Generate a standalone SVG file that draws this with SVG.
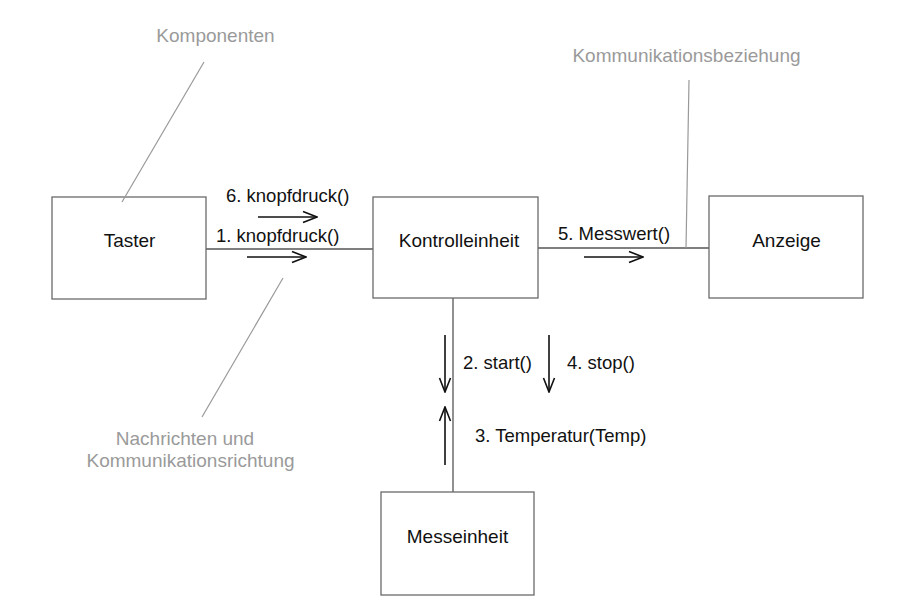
<svg xmlns="http://www.w3.org/2000/svg" width="922" height="606" viewBox="0 0 922 606">
<defs>
<style>
.box{fill:#fff;stroke:#6a6a6a;stroke-width:1.3}
.name{font-family:"Liberation Sans",Arial,sans-serif;font-size:19px;fill:#111;text-anchor:middle}
.msg{font-family:"Liberation Sans",Arial,sans-serif;font-size:18.5px;fill:#111}
.note{font-family:"Liberation Sans",Arial,sans-serif;font-size:19px;fill:#9a9a9a}
.link{stroke:#555;stroke-width:1.3;fill:none}
.ptr{stroke:#999;stroke-width:1.2;fill:none}
.arr{stroke:#111;stroke-width:1.6;fill:none}
</style>
<marker id="ah" viewBox="0 0 16 14" refX="15" refY="7" markerWidth="16" markerHeight="14" markerUnits="userSpaceOnUse" orient="auto">
<path d="M1,1.5 L15,7 L1,12.5" fill="none" stroke="#111" stroke-width="1.6"/>
</marker>
</defs>
<rect width="922" height="606" fill="#fff"/>
<g id="connectors">
<line class="link" x1="206" y1="249" x2="373" y2="249"/>
<line class="link" x1="538" y1="248" x2="709" y2="248"/>
<line class="link" x1="453" y1="298" x2="453" y2="492"/>
</g>
<g id="messages">
<line class="arr" x1="258" y1="217" x2="317" y2="217" marker-end="url(#ah)"/>
<line class="arr" x1="247" y1="257" x2="306" y2="257" marker-end="url(#ah)"/>
<line class="arr" x1="584" y1="257" x2="643" y2="257" marker-end="url(#ah)"/>
<line class="arr" x1="445" y1="335" x2="445" y2="392" marker-end="url(#ah)"/>
<line class="arr" x1="445" y1="465" x2="445" y2="407" marker-end="url(#ah)"/>
<line class="arr" x1="549" y1="335" x2="549" y2="392" marker-end="url(#ah)"/>
<text class="msg" x="226" y="202">6. knopfdruck()</text>
<text class="msg" x="216" y="242">1. knopfdruck()</text>
<text class="msg" x="558" y="240">5. Messwert()</text>
<text class="msg" x="463" y="369">2. start()</text>
<text class="msg" x="567" y="369">4. stop()</text>
<text class="msg" x="475" y="442">3. Temperatur(Temp)</text>
</g>
<g id="node-taster">
<rect class="box" x="52" y="197" width="154" height="102"/>
<text class="name" x="129.5" y="247">Taster</text>
</g>
<g id="node-kontrolleinheit">
<rect class="box" x="373" y="197" width="165" height="101"/>
<text class="name" x="459" y="247">Kontrolleinheit</text>
</g>
<g id="node-anzeige">
<rect class="box" x="709" y="196" width="154" height="102"/>
<text class="name" x="786.5" y="247">Anzeige</text>
</g>
<g id="node-messeinheit">
<rect class="box" x="381" y="492" width="153" height="103"/>
<text class="name" x="457.5" y="543">Messeinheit</text>
</g>
<g id="annotations">
<line class="ptr" x1="204" y1="62" x2="122" y2="202"/>
<line class="ptr" x1="283" y1="278" x2="202" y2="417"/>
<line class="ptr" x1="689" y1="80" x2="686" y2="248"/>
<text class="note" x="215.5" y="42" text-anchor="middle">Komponenten</text>
<text class="note" x="686.5" y="62" text-anchor="middle">Kommunikationsbeziehung</text>
<text class="note" x="185" y="445" text-anchor="middle">Nachrichten und</text>
<text class="note" x="190.5" y="467" text-anchor="middle">Kommunikationsrichtung</text>
</g>
</svg>
